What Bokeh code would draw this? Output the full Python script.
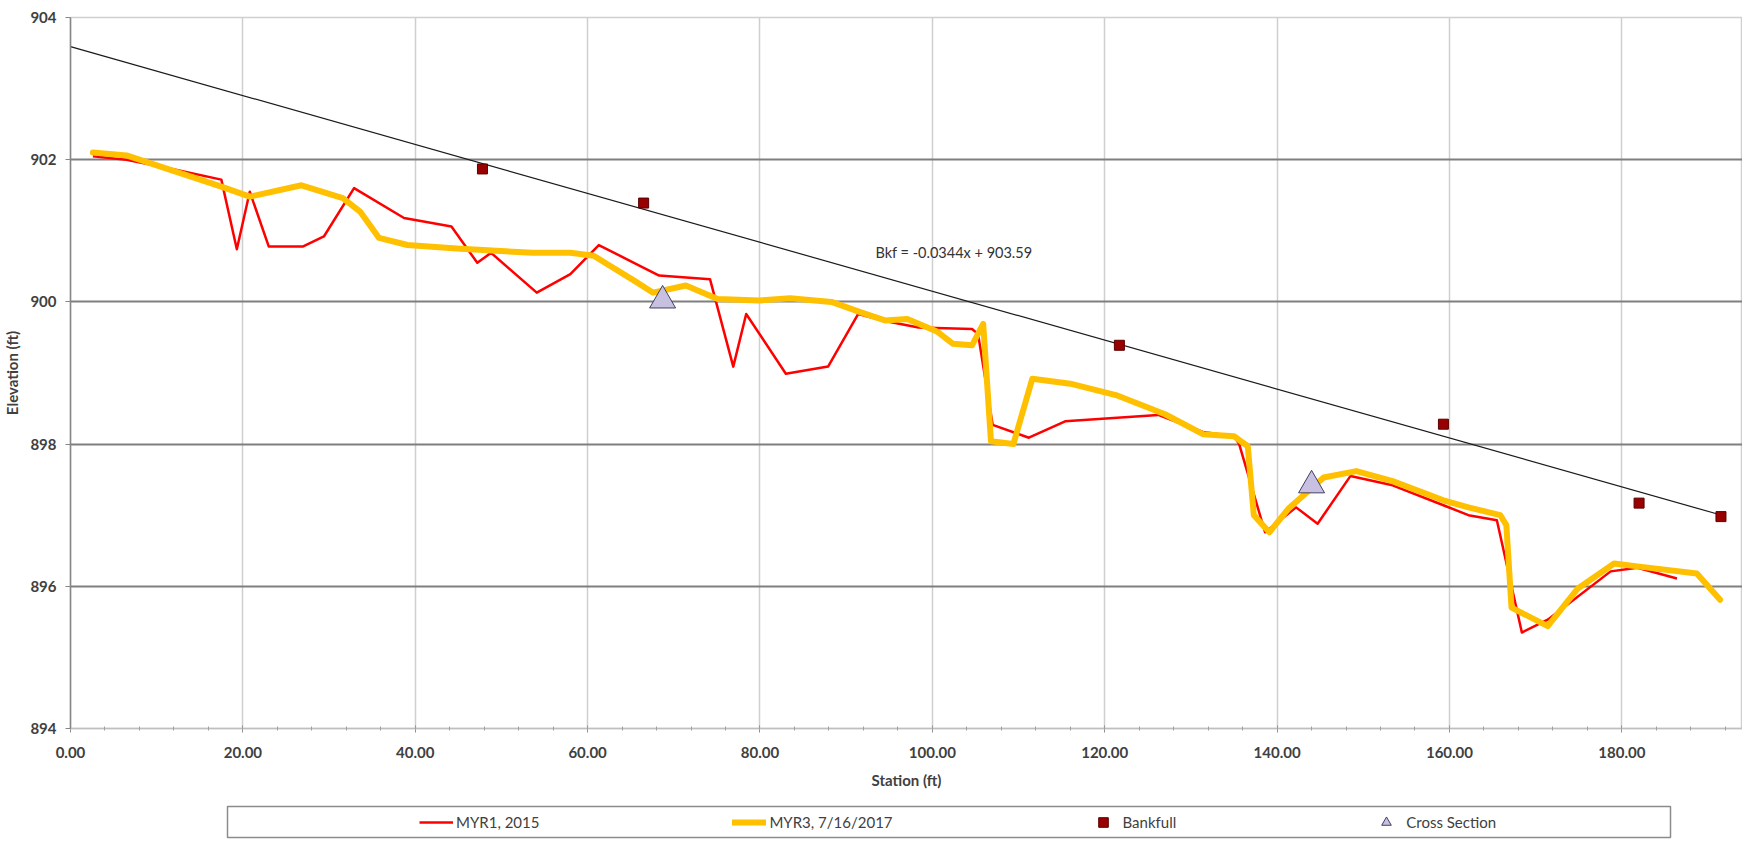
from bokeh.plotting import figure
from bokeh.layouts import column
from bokeh.models import (Range1d, FixedTicker, NumeralTickFormatter, Legend,
                          LegendItem, Label)
from bokeh.embed import file_html
from bokeh.resources import INLINE

FONT = "Lato"
NAN = float("nan")

# MYR1, 2015 profile
station_2015 = [2.6, 6.5, 11.8, 17.5, 19.3, 20.8, 23.0, 27.0, 29.4, 32.9, 38.7, 44.2,
                47.2, 48.8, 54.1, 58.0, 61.3, 65.2, 68.3, 74.2, 76.9, 78.4, 83.0, 87.9,
                91.4, 94.5, 98.4, 104.6, 105.3, 107.0, 111.2, 115.4, 126.2, 131.4, 135.0,
                135.6, 138.6, 142.2, 144.7, 148.5, 153.4, 159.3, 162.2, 165.5, 168.4,
                171.4, 178.7, 181.8, 186.4]
elev_2015 = [902.05, 902.00, 901.87, 901.72, 900.74, 901.55, 900.78, 900.78, 900.92,
             901.60, 901.18, 901.06, 900.55, 900.69, 900.13, 900.39, 900.80, 900.56,
             900.37, 900.32, 899.09, 899.83, 898.99, 899.09, 899.83, 899.73, 899.64,
             899.62, 899.55, 898.27, 898.09, 898.32, 898.41, 898.17, 898.11, 898.00,
             896.76, 897.11, 896.88, 897.55, 897.42, 897.14, 897.00, 896.93, 895.35,
             895.53, 896.21, 896.26, 896.11]

# MYR3, 7/16/2017 profile
station_2017 = [2.6, 6.5, 11.5, 17.5, 20.8, 26.8, 31.6, 33.6, 35.8, 39.1, 44.8, 53.6,
                58.0, 60.7, 62.3, 65.4, 67.6, 71.4, 75.1, 79.9, 83.5, 88.3, 91.8, 94.5,
                97.1, 100.6, 102.4, 104.6, 105.9, 106.8, 109.4, 111.6, 116.0, 121.3,
                127.0, 131.4, 135.0, 136.6, 137.3, 139.1, 141.3, 145.4, 149.2, 153.4,
                159.3, 162.2, 165.9, 166.6, 167.2, 171.4, 174.9, 179.1, 181.8, 188.7,
                191.4]
elev_2017 = [902.10, 902.06, 901.86, 901.62, 901.48, 901.64, 901.46, 901.27, 900.90,
             900.80, 900.75, 900.69, 900.69, 900.65, 900.53, 900.30, 900.13, 900.23,
             900.04, 900.02, 900.05, 900.00, 899.85, 899.74, 899.76, 899.58, 899.41,
             899.39, 899.69, 898.04, 898.00, 898.92, 898.85, 898.69, 898.42, 898.14,
             898.11, 897.97, 897.00, 896.76, 897.09, 897.53, 897.62, 897.48, 897.21,
             897.11, 897.00, 896.86, 895.70, 895.44, 895.97, 896.32, 896.28, 896.18,
             895.81]

bankfull_station = [47.8, 66.5, 121.7, 159.3, 182.0, 191.5]
bankfull_elev = [901.87, 901.39, 899.39, 898.28, 897.17, 896.98]

xsec_station = [68.7, 144.0]
xsec_elev = [900.02, 897.42]

trend_slope = -0.0344
trend_intercept = 903.59
trend_station = [0.0, 191.5]
trend_elev = [trend_intercept + trend_slope * s for s in trend_station]
trend_text = "Bkf = -0.0344x + 903.59"

legend_labels = ["MYR1, 2015", "MYR3, 7/16/2017", "Bankfull", "Cross Section"]

x_ticks = [0, 20, 40, 60, 80, 100, 120, 140, 160, 180]
x_minor = list(range(0, 195, 4))
y_ticks = [894, 896, 898, 900, 902, 904]
y_grid = [896, 898, 900, 902]

RED = dict(line_color="#FF0000", line_width=2.5, line_join="round")
YEL = dict(line_color="#FFC000", line_width=6, line_join="round", line_cap="round")
BKF = dict(marker="square", fill_color="#990000", line_color="#5A0000", line_width=1)
XSC = dict(marker="triangle", fill_color="#C8C0E0", line_color="#404060", line_width=1)

p = figure(width=1742, height=791, output_backend="svg", toolbar_location=None,
           x_range=Range1d(0, 194), y_range=Range1d(894, 904),
           min_border_left=64, min_border_right=0, min_border_top=17,
           min_border_bottom=57)
p.frame_align = False
p.background_fill_color = "white"
p.border_fill_color = "white"
p.outline_line_color = "#D0D0D0"
p.outline_line_width = 1.5

# grids
p.xgrid.ticker = FixedTicker(ticks=x_ticks[1:])
p.xgrid.grid_line_color = "#CFCFCF"
p.xgrid.grid_line_width = 1.5
p.ygrid.ticker = FixedTicker(ticks=y_grid)
p.ygrid.grid_line_color = "#7F7F7F"
p.ygrid.grid_line_width = 2.2

# axes
xa = p.xaxis[0]
xa.ticker = FixedTicker(ticks=x_ticks, minor_ticks=x_minor)
xa.formatter = NumeralTickFormatter(format="0.00")
xa.axis_label = "Station (ft)"
xa.axis_line_color = "#BFBFBF"
xa.axis_line_width = 1.5
xa.major_tick_line_color = "#8C8C8C"
xa.major_tick_in = 3
xa.major_tick_out = 4
xa.minor_tick_line_color = "#A0A0A0"
xa.minor_tick_in = 2
xa.minor_tick_out = 2
xa.major_label_standoff = 14
xa.axis_label_standoff = 10

ya = p.yaxis[0]
ya.ticker = FixedTicker(ticks=y_ticks)
ya.axis_label = "Elevation (ft)"
ya.axis_line_color = "#868686"
ya.axis_line_width = 1.5
ya.major_tick_line_color = "#868686"
ya.major_tick_in = 0
ya.major_tick_out = 5
ya.minor_tick_line_color = None
ya.major_label_standoff = 9
ya.axis_label_standoff = 6

for ax in (xa, ya):
    ax.major_label_text_font = FONT
    ax.major_label_text_font_size = "15px"
    ax.major_label_text_font_style = "bold"
    ax.major_label_text_color = "#404040"
    ax.axis_label_text_font = FONT
    ax.axis_label_text_font_size = "15px"
    ax.axis_label_text_font_style = "bold"
    ax.axis_label_text_color = "#404040"

# series
p.line(station_2015, elev_2015, **RED)
p.line(station_2017, elev_2017, **YEL)
p.line(trend_station, trend_elev, line_color="#1A1A1A", line_width=1.2)
p.scatter(bankfull_station, bankfull_elev, size=10, **BKF)
p.scatter(xsec_station, xsec_elev, size=26, **XSC)

p.add_layout(Label(x=93.4, y=900.69, text=trend_text, text_baseline="middle",
                   text_align="left", text_font=FONT, text_font_size="14.5px",
                   text_color="#333333"))

# legend strip: its frame outline is the legend box
q = figure(width=1742, height=48, output_backend="svg", toolbar_location=None,
           x_range=Range1d(0, 1), y_range=Range1d(0, 1),
           x_axis_location=None, y_axis_location=None,
           min_border_left=227, min_border_right=72, min_border_top=15,
           min_border_bottom=2)
q.frame_align = False
q.grid.visible = False
q.background_fill_color = "white"
q.border_fill_color = "white"
q.outline_line_color = "#8C8C8C"
q.outline_line_width = 1.5

# legend swatch renderers (no visible data points)
lr1 = q.line(x=[NAN], y=[NAN], **RED)
lr2 = q.line(x=[NAN], y=[NAN], **YEL)
lr3 = q.scatter(x=[NAN], y=[NAN], size=10, **BKF)
lr4 = q.scatter(x=[NAN], y=[NAN], size=26, **XSC)

legend = Legend(items=[LegendItem(label=legend_labels[0], renderers=[lr1]),
                       LegendItem(label=legend_labels[1], renderers=[lr2]),
                       LegendItem(label=legend_labels[2], renderers=[lr3]),
                       LegendItem(label=legend_labels[3], renderers=[lr4])],
                orientation="horizontal", location=(190, 1),
                glyph_width=34, glyph_height=24, label_standoff=3, spacing=193,
                padding=2, margin=0, border_line_alpha=0,
                background_fill_alpha=0, label_text_font=FONT,
                label_text_font_size="15px", label_text_color="#404040")
q.add_layout(legend)

layout = column(p, q)
open("out.html", "w").write(file_html(layout, INLINE))
